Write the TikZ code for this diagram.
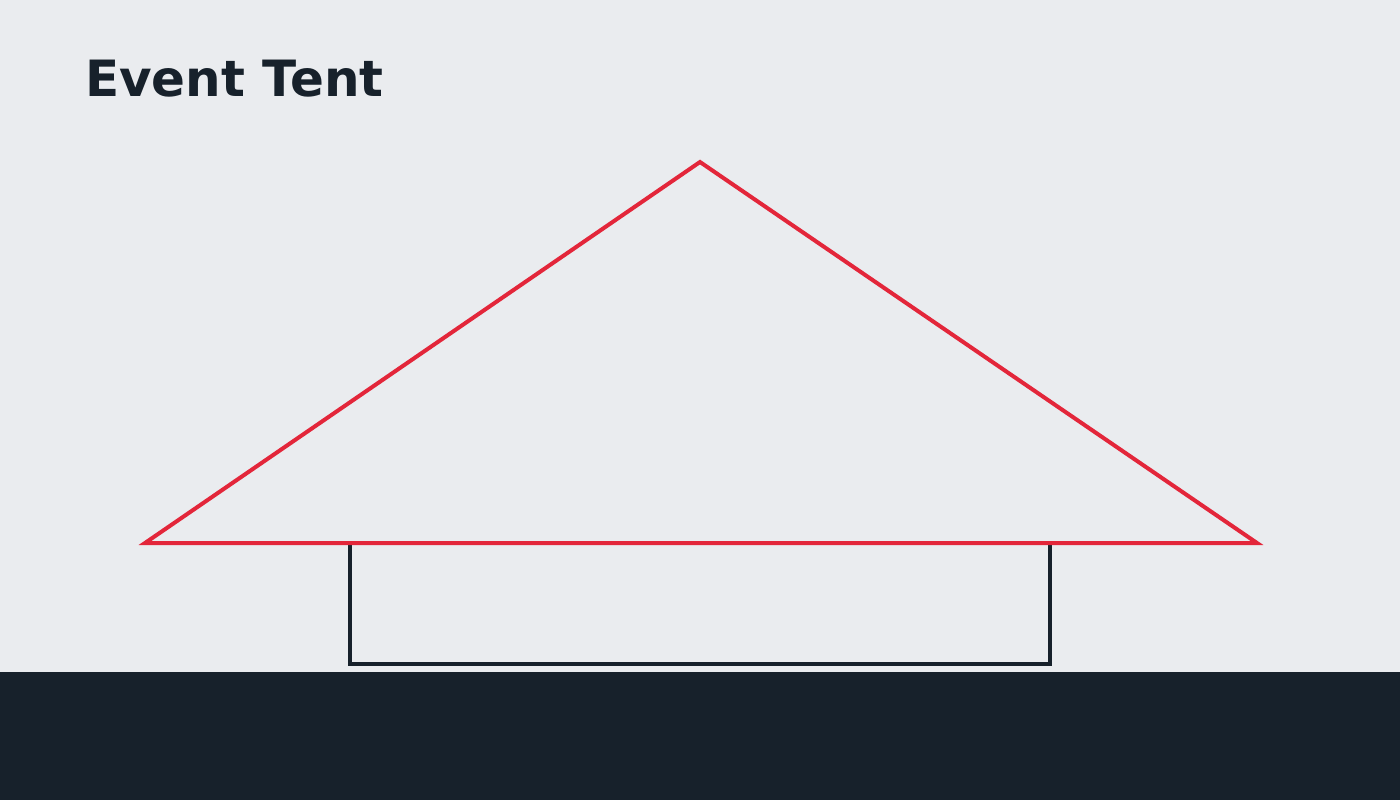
\documentclass[tikz,border=0pt]{standalone}
\usepackage{fontspec}
\setmainfont{DejaVu Sans}
\definecolor{bgc}{HTML}{EAECEF}
\definecolor{darkc}{HTML}{17212B}
\definecolor{redc}{HTML}{E3263A}
\begin{document}
\begin{tikzpicture}[x=1pt,y=-1pt,
  roof/.style={draw=redc,line width=4pt,line join=miter},
  wall/.style={draw=darkc,line width=3.5pt,line join=miter},
  title/.style={anchor=base west,inner sep=0pt,text=darkc,font=\bfseries\fontsize{50}{60}\selectfont}]
\useasboundingbox (0,0) rectangle (1400,800);
\fill[bgc] (0,0) rectangle (1400,800);
\fill[darkc] (0,672) rectangle (1400,800);
\coordinate (apex) at (700,162);
\coordinate (left) at (145,543);
\coordinate (right) at (1257,543);
\coordinate (wl) at (350,543);
\coordinate (wr) at (1050,543);
\draw[wall] (wl) -- (350,664) -- (1050,664) -- (wr);
\draw[roof] (left) -- (apex) -- (right) -- cycle;
\node[title] (t) at (85,96) {Event Tent};
\end{tikzpicture}
\end{document}
